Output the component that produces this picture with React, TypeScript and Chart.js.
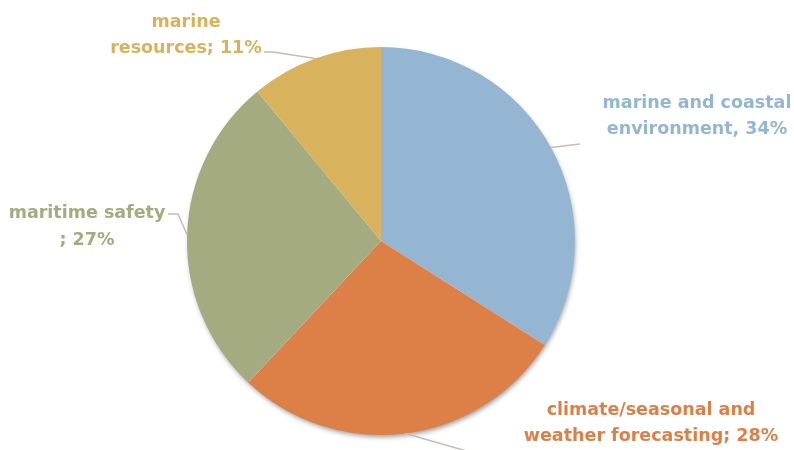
import { useEffect, useRef } from 'react';
import { Chart, registerables } from 'chart.js';

Chart.register(...registerables);

const categories = [
  'marine and coastal environment',
  'climate/seasonal and weather forecasting',
  'maritime safety',
  'marine resources',
];
const values = [34, 28, 27, 11];
const colors = ['#94B6D2', '#DD8047', '#A5AB81', '#D8B25C'];
const labelLine1 = ['marine and coastal', 'climate/seasonal and', 'maritime safety', 'marine'];
const labelLine2Prefix = ['environment, ', 'weather forecasting; ', '; ', 'resources; '];

// label placement (layout only)
const labelLayout = [
  { x: 697, y: 108, dy: 26, path: [[580, 144]] },
  { x: 651, y: 415, dy: 26, path: [[470, 452]] },
  { x: 87, y: 218, dy: 27, path: [[178, 214], [168, 214]] },
  { x: 186, y: 27, dy: 26, path: [[273, 52], [264, 52]] },
];

const FONT = 'bold 17.5px "DejaVu Sans", sans-serif';

const shadowPlugin = {
  id: 'pieShadow',
  beforeDatasetsDraw(chart: any) {
    const meta = chart.getDatasetMeta(0);
    const arc = meta.data[0];
    if (!arc) return;
    const { x, y, outerRadius } = arc.getProps(['x', 'y', 'outerRadius'], true);
    const ctx = chart.ctx;
    ctx.save();
    ctx.shadowColor = 'rgba(0,0,0,0.4)';
    ctx.shadowBlur = 5;
    ctx.shadowOffsetX = 1;
    ctx.shadowOffsetY = 3;
    ctx.fillStyle = '#ffffff';
    ctx.beginPath();
    ctx.arc(x, y, outerRadius - 1, 0, Math.PI * 2);
    ctx.fill();
    ctx.restore();
  },
};

const labelPlugin = {
  id: 'pieLabels',
  afterDatasetsDraw(chart: any) {
    const meta = chart.getDatasetMeta(0);
    const ctx = chart.ctx;
    meta.data.forEach((arc: any, i: number) => {
      const { x, y, startAngle, endAngle, outerRadius } = arc.getProps(
        ['x', 'y', 'startAngle', 'endAngle', 'outerRadius'],
        true
      );
      const mid = (startAngle + endAngle) / 2;
      const ex = x + Math.cos(mid) * outerRadius;
      const ey = y + Math.sin(mid) * outerRadius;
      const lay = labelLayout[i];
      ctx.save();
      ctx.strokeStyle = '#C8BBB3';
      ctx.lineWidth = 1.5;
      ctx.beginPath();
      ctx.moveTo(ex, ey);
      lay.path.forEach((p) => ctx.lineTo(p[0], p[1]));
      ctx.stroke();
      ctx.fillStyle = colors[i];
      ctx.font = FONT;
      ctx.textAlign = 'center';
      ctx.textBaseline = 'alphabetic';
      ctx.fillText(labelLine1[i], lay.x, lay.y);
      ctx.fillText(labelLine2Prefix[i] + values[i] + '%', lay.x, lay.y + lay.dy);
      ctx.restore();
    });
  },
};

export default function App() {
  const ref = useRef<HTMLCanvasElement | null>(null);
  useEffect(() => {
    if (!ref.current) return;
    const chart = new Chart(ref.current, {
      type: 'pie',
      data: {
        labels: categories,
        datasets: [
          {
            data: values,
            backgroundColor: colors,
            borderWidth: 0,
          },
        ],
      },
      options: {
        animation: false,
        responsive: true,
        maintainAspectRatio: false,
        layout: { padding: { left: 0, right: 32, top: 47, bottom: 15 } },
        plugins: {
          legend: { display: false },
          tooltip: { enabled: false },
        },
      },
      plugins: [shadowPlugin, labelPlugin],
    });
    return () => chart.destroy();
  }, []);
  return (
    <div style={{ position: 'fixed', left: 0, top: 0, width: 794, height: 450, background: '#fff' }}>
      <canvas ref={ref} />
    </div>
  );
}
